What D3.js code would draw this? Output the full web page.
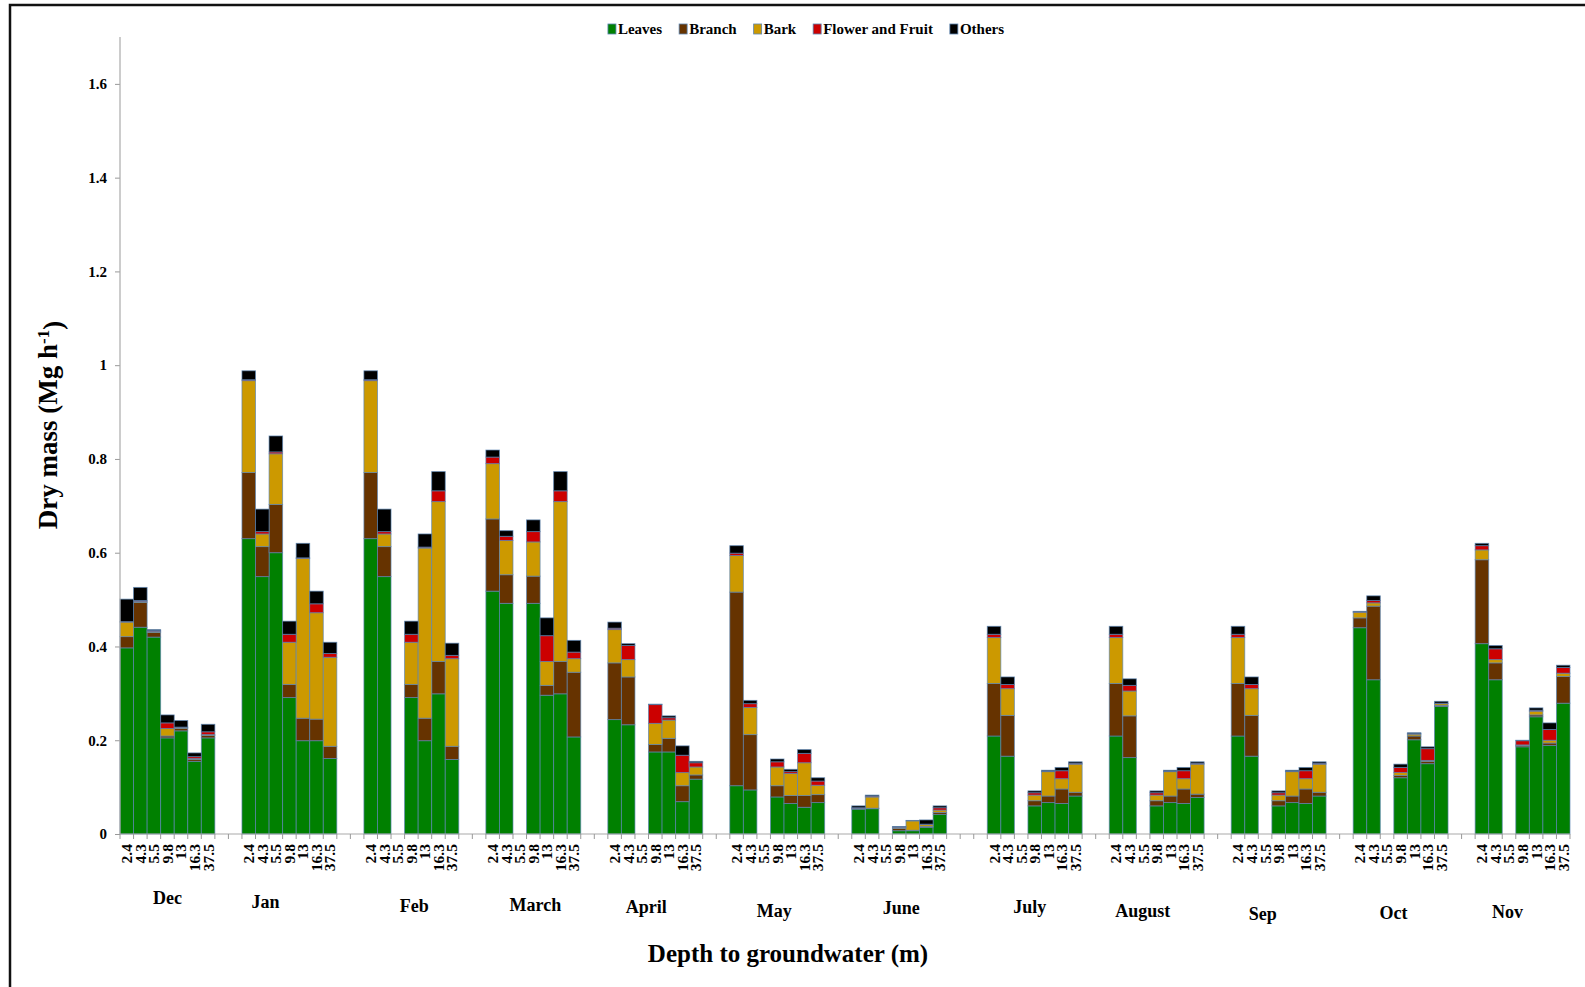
<!DOCTYPE html>
<html>
<head>
<meta charset="utf-8">
<script src="https://cdn.jsdelivr.net/npm/d3@7"></script>
<style>
  body { margin: 0; background: #fff; }
  svg text { font-family: "Liberation Serif", "Times New Roman", serif; font-weight: bold; fill: #000; }
</style>
</head>
<body>
<div id="chart"></div>
<script>
// ---- data (Mg h-1), one row per month, one value per depth; null = no bar ----
var months = ['Dec', 'Jan', 'Feb', 'March', 'April', 'May', 'June', 'July', 'August', 'Sep', 'Oct', 'Nov'];
var depths = ['2.4', '4.3', '5.5', '9.8', '13', '16.3', '37.5'];
var seriesNames = ['Leaves', 'Branch', 'Bark', 'Flower and Fruit', 'Others'];
var yTicks = [0, 0.2, 0.4, 0.6, 0.8, 1, 1.2, 1.4, 1.6];

var leaves = [
  [0.397, 0.441, 0.420, 0.205, 0.220, 0.155, 0.205],
  [0.630, 0.549, 0.600, 0.291, 0.199, 0.199, 0.161],
  [0.630, 0.549, null, 0.291, 0.199, 0.299, 0.159],
  [0.518, 0.492, null, 0.492, 0.296, 0.299, 0.207],
  [0.244, 0.233, null, 0.175, 0.175, 0.069, 0.117],
  [0.103, 0.094, null, 0.079, 0.065, 0.057, 0.067],
  [0.053, 0.054, null, 0.007, 0.007, 0.014, 0.042],
  [0.209, 0.166, null, 0.060, 0.067, 0.065, 0.081],
  [0.209, 0.163, null, 0.060, 0.067, 0.065, 0.078],
  [0.209, 0.166, null, 0.060, 0.067, 0.065, 0.081],
  [0.440, 0.329, null, 0.120, 0.201, 0.150, 0.272],
  [0.406, 0.329, null, 0.186, 0.250, 0.189, 0.279]
];
var branch = [
  [0.024, 0.053, 0.010, 0.004, 0.005, 0.004, 0.005],
  [0.141, 0.064, 0.103, 0.028, 0.048, 0.046, 0.026],
  [0.141, 0.064, null, 0.028, 0.048, 0.069, 0.028],
  [0.154, 0.061, null, 0.058, 0.021, 0.069, 0.138],
  [0.121, 0.102, null, 0.016, 0.029, 0.034, 0.009],
  [0.413, 0.118, null, 0.024, 0.017, 0.025, 0.017],
  [0.001, 0.001, null, 0.005, 0.001, 0.002, 0.004],
  [0.112, 0.087, null, 0.011, 0.014, 0.031, 0.008],
  [0.112, 0.089, null, 0.011, 0.014, 0.031, 0.007],
  [0.112, 0.087, null, 0.011, 0.014, 0.031, 0.008],
  [0.021, 0.157, null, 0.005, 0.008, 0.005, 0.002],
  [0.179, 0.036, null, 0.003, 0.004, 0.005, 0.057]
];
var bark = [
  [0.031, 0.002, 0.002, 0.016, 0.002, 0.002, 0.002],
  [0.196, 0.027, 0.108, 0.090, 0.341, 0.227, 0.190],
  [0.196, 0.027, null, 0.090, 0.363, 0.341, 0.187],
  [0.118, 0.073, null, 0.073, 0.051, 0.341, 0.029],
  [0.071, 0.037, null, 0.045, 0.039, 0.028, 0.017],
  [0.078, 0.058, null, 0.040, 0.047, 0.070, 0.020],
  [0.001, 0.024, null, 0.002, 0.020, 0.004, 0.005],
  [0.098, 0.057, null, 0.012, 0.052, 0.022, 0.060],
  [0.098, 0.053, null, 0.012, 0.052, 0.022, 0.064],
  [0.098, 0.057, null, 0.012, 0.052, 0.022, 0.060],
  [0.012, 0.007, null, 0.006, 0.004, 0.002, 0.004],
  [0.021, 0.007, null, 0.001, 0.008, 0.006, 0.007]
];
var flowerFruit = [
  [0.001, 0.002, 0.002, 0.012, 0.001, 0.004, 0.006],
  [0.002, 0.005, 0.004, 0.017, 0.001, 0.019, 0.008],
  [0.002, 0.005, null, 0.017, 0.002, 0.023, 0.007],
  [0.014, 0.009, null, 0.022, 0.055, 0.023, 0.014],
  [0.003, 0.030, null, 0.040, 0.005, 0.037, 0.009],
  [0.005, 0.008, null, 0.011, 0.004, 0.020, 0.009],
  [0.001, 0.002, null, 0.001, 0.000, 0.001, 0.005],
  [0.007, 0.009, null, 0.005, 0.001, 0.017, 0.002],
  [0.007, 0.012, null, 0.005, 0.001, 0.017, 0.002],
  [0.007, 0.009, null, 0.005, 0.001, 0.017, 0.002],
  [0.001, 0.005, null, 0.011, 0.001, 0.025, 0.001],
  [0.009, 0.023, null, 0.009, 0.002, 0.023, 0.012]
];
var others = [
  [0.048, 0.028, 0.002, 0.017, 0.014, 0.008, 0.016],
  [0.019, 0.048, 0.034, 0.028, 0.031, 0.027, 0.024],
  [0.019, 0.048, null, 0.028, 0.028, 0.041, 0.026],
  [0.015, 0.012, null, 0.025, 0.038, 0.041, 0.025],
  [0.013, 0.004, null, 0.001, 0.004, 0.020, 0.003],
  [0.016, 0.007, null, 0.006, 0.005, 0.008, 0.007],
  [0.004, 0.002, null, 0.001, 0.001, 0.009, 0.004],
  [0.017, 0.016, null, 0.004, 0.002, 0.007, 0.003],
  [0.017, 0.014, null, 0.004, 0.002, 0.007, 0.003],
  [0.017, 0.016, null, 0.004, 0.002, 0.007, 0.003],
  [0.001, 0.010, null, 0.007, 0.002, 0.004, 0.004],
  [0.005, 0.007, null, 0.001, 0.005, 0.014, 0.005]
];
// empty category slots after each month on the axis
var blankSlotsAfter = [2, 2, 2, 2, 2, 2, 3, 2, 2, 2, 2, 0];

(function(){
    var W = 1585, H = 987;
    var plot = { left: 120, right: 1570, top: 37, bottom: 834 };

    var svg = d3.select('#chart').append('svg')
        .attr('width', W).attr('height', H);

    // outer frame of the figure
    svg.append('rect')
        .attr('x', 10).attr('y', 5).attr('width', W + 20).attr('height', H + 20)
        .attr('fill', 'none').attr('stroke', '#111').attr('stroke-width', 2.5);

    var color = d3.scaleOrdinal()
        .domain(seriesNames)
        .range(['#008000', '#663300', '#cc9900', '#cc0000', '#000000']);
    var seriesData = [leaves, branch, bark, flowerFruit, others];

    // build category slots (real depths + blank spacer slots)
    var slots = [], rows = [], labelKeys = [];
    months.forEach(function(m, mi){
        depths.forEach(function(d, di){
            var key = m + '|' + d;
            slots.push(key);
            labelKeys.push(key);
            if (leaves[mi][di] == null) return;
            var r = { key: key };
            seriesNames.forEach(function(s, si){ r[s] = seriesData[si][mi][di] || 0; });
            rows.push(r);
        });
        for (var k = 0; k < blankSlotsAfter[mi]; k++) slots.push(m + '|blank' + k);
    });

    var x = d3.scaleBand().domain(slots).range([plot.left, plot.right]).padding(0);
    var y = d3.scaleLinear().domain([0, 1.7]).range([plot.bottom, plot.top]);

    var stacked = d3.stack().keys(seriesNames)(rows);

    svg.append('g').selectAll('g')
        .data(stacked).enter().append('g')
        .attr('fill', function(d){ return color(d.key); })
        .selectAll('rect')
        .data(function(d){ return d; }).enter().append('rect')
        .attr('x', function(d){ return x(d.data.key); })
        .attr('width', x.bandwidth())
        .attr('y', function(d){ return y(d[1]); })
        .attr('height', function(d){ return Math.max(0, y(d[0]) - y(d[1])); })
        .attr('stroke', '#5b84b1')
        .attr('stroke-opacity', 0.75)
        .attr('stroke-width', 0.9);

    // Y axis
    var yAxisG = svg.append('g')
        .attr('transform', 'translate(' + plot.left + ',0)')
        .call(d3.axisLeft(y).tickValues(yTicks).tickSize(5).tickPadding(8)
            .tickFormat(function(d){ return d3.format('~g')(d); }));
    yAxisG.select('.domain').remove();
    yAxisG.selectAll('line').attr('stroke', '#999');
    yAxisG.selectAll('text').style('font-size', '15px');
    svg.append('line')
        .attr('x1', plot.left).attr('x2', plot.left)
        .attr('y1', plot.top).attr('y2', plot.bottom)
        .attr('stroke', '#aaa').attr('stroke-width', 1.2);

    // X axis: tick marks between categories, labels only on real depths
    svg.append('line')
        .attr('x1', plot.left).attr('x2', plot.right)
        .attr('y1', plot.bottom).attr('y2', plot.bottom)
        .attr('stroke', '#aaa').attr('stroke-width', 1.2);
    var bounds = slots.map(function(s){ return x(s); }).concat([plot.right]);
    svg.append('g').selectAll('line')
        .data(bounds).enter().append('line')
        .attr('x1', function(d){ return d; }).attr('x2', function(d){ return d; })
        .attr('y1', plot.bottom).attr('y2', plot.bottom + 5)
        .attr('stroke', '#999');

    // labels read bottom-to-top, right-aligned under the axis
    var xAxisG = svg.append('g')
        .attr('transform', 'translate(0,' + plot.bottom + ')')
        .call(d3.axisBottom(x).tickValues(labelKeys).tickSize(0)
            .tickFormat(function(k){ return k.split('|')[1]; }));
    xAxisG.select('.domain').remove();
    xAxisG.selectAll('text')
        .attr('transform', 'rotate(-90)')
        .attr('x', -10).attr('y', 0).attr('dy', '0.35em')
        .style('text-anchor', 'end')
        .style('font-size', '15.5px');

    // month names under each group (hand-placed in the original, small nudges)
    var nudge = [[0, 0], [-24, 4], [3, 8], [2, 7], [-9, 9], [-3, 13], [2, 10], [-5, 9], [-14, 13], [-16, 16], [-7, 15], [-15, 14]];
    svg.append('g').selectAll('text')
        .data(months).enter().append('text')
        .attr('x', function(m, i){
            return (x(m + '|2.4') + x(m + '|37.5') + x.bandwidth()) / 2 + nudge[i][0];
        })
        .attr('y', function(m, i){ return 904 + nudge[i][1]; })
        .attr('text-anchor', 'middle')
        .style('font-size', '18px')
        .text(function(m){ return m; });

    // axis titles
    svg.append('text')
        .attr('x', 788).attr('y', 962)
        .attr('text-anchor', 'middle')
        .style('font-size', '25px')
        .text('Depth to groundwater (m)');

    var yt = svg.append('text')
        .attr('transform', 'translate(57,425) rotate(-90)')
        .attr('text-anchor', 'middle')
        .style('font-size', '27px');
    yt.append('tspan').text('Dry mass (Mg h');
    yt.append('tspan').attr('dy', '-0.5em').style('font-size', '17px').text('-1');
    yt.append('tspan').attr('dy', '0.5em').text(')');

    // legend on top, centred
    var legend = svg.append('g').attr('transform', 'translate(0,29)');
    var items = legend.selectAll('g').data(seriesNames).enter().append('g');
    items.append('rect')
        .attr('x', 0).attr('y', -5).attr('width', 8).attr('height', 10)
        .attr('fill', function(d){ return color(d); })
        .attr('stroke', '#5b84b1').attr('stroke-width', 0.8);
    items.append('text')
        .attr('x', 10).attr('dy', '0.35em')
        .style('font-size', '15px')
        .text(function(d){ return d; });
    var pos = 0, offsets = [];
    items.each(function(){
        offsets.push(pos);
        pos += d3.select(this).select('text').node().getComputedTextLength() + 10 + 17;
    });
    var startX = 806 - (pos - 17) / 2;
    items.attr('transform', function(d, i){ return 'translate(' + (startX + offsets[i]) + ',0)'; });
})();
</script>
</body>
</html>
